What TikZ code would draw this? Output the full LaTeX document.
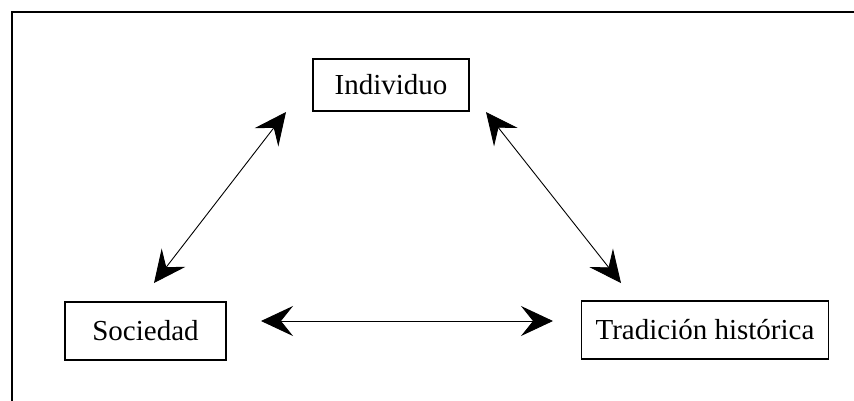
\documentclass[tikz,border=0pt]{standalone}
\usepackage{fontspec}
\setmainfont{Liberation Serif}
\usetikzlibrary{arrows.meta}
\begin{document}
\begin{tikzpicture}[x=1pt,y=-1pt,
  box/.style={draw,line width=1.3pt,inner sep=0pt,font=\fontsize{29}{32}\selectfont,anchor=center},
  conn/.style={line width=0.9pt,{Stealth[length=32pt,width=30pt,inset=12pt]}-{Stealth[length=32pt,width=30pt,inset=12pt]}}]
\useasboundingbox (0,0) rectangle (854,400);
\draw[line width=1.3pt] (12,402) -- (12,12) -- (856,12);
\node[box,minimum width=156pt,minimum height=52pt] (ind) at (391,85) {Individuo};
\node[box,minimum width=161pt,minimum height=58pt] (soc) at (145.5,331) {Sociedad};
\node[box,minimum width=247pt,minimum height=58pt] (tra) at (705,330) {Tradición histórica};
\coordinate (l1) at (286,112);
\coordinate (l2) at (154,283);
\coordinate (r1) at (486,112);
\coordinate (r2) at (621,283);
\coordinate (h1) at (261,321);
\coordinate (h2) at (553,321);
\draw[conn] (l1) -- (l2);
\draw[conn] (r1) -- (r2);
\draw[conn] (h1) -- (h2);
\end{tikzpicture}
\end{document}
